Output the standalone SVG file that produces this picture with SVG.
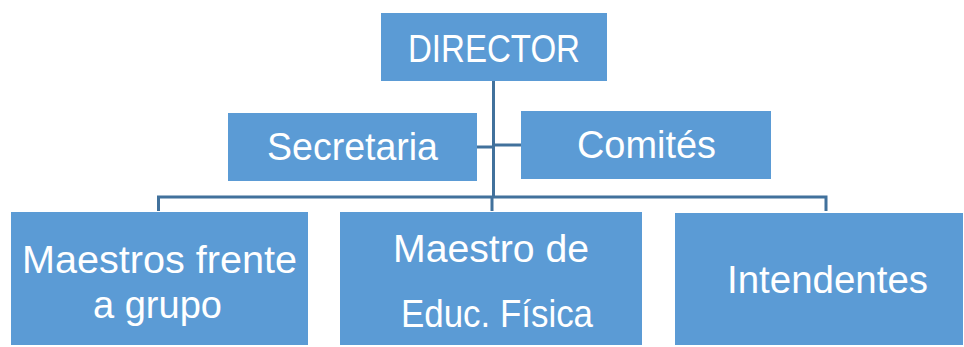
<svg xmlns="http://www.w3.org/2000/svg" width="964" height="347" viewBox="0 0 964 347">
<style>
.box{fill:#5B9BD5;}
.lbl{fill:#FFFFFF;font-family:"Liberation Sans","Noto Sans",Arial,sans-serif;font-size:38px;text-anchor:start;}
.con{stroke:#41719C;stroke-width:3;fill:none;}
</style>
<rect width="964" height="347" fill="#FFFFFF"/>
<g id="connectors">
<path class="con" d="M493.5,81 V197"/>
<path class="con" d="M492,197 V211"/>
<path class="con" d="M158.5,211 V197 H826 V211"/>
<path class="con" d="M477,147 H493.5"/>
<path class="con" d="M493.5,145 H521"/>
</g>
<g id="director">
<rect class="box" x="381" y="13" width="226" height="68"/>
<text class="lbl" x="408" y="62" textLength="172" lengthAdjust="spacingAndGlyphs">DIRECTOR</text>
</g>
<g id="secretaria">
<rect class="box" x="228" y="113" width="249" height="68"/>
<text class="lbl" x="267" y="160" textLength="171" lengthAdjust="spacingAndGlyphs">Secretaria</text>
</g>
<g id="comites">
<rect class="box" x="521" y="111" width="250" height="68"/>
<text class="lbl" x="577" y="158" textLength="139" lengthAdjust="spacingAndGlyphs">Comités</text>
</g>
<g id="maestros-frente">
<rect class="box" x="11" y="212" width="297" height="133"/>
<text class="lbl" x="22" y="273" textLength="275" lengthAdjust="spacingAndGlyphs">Maestros frente</text>
<text class="lbl" x="93" y="318" textLength="129" lengthAdjust="spacingAndGlyphs">a grupo</text>
</g>
<g id="maestro-educ">
<rect class="box" x="340" y="212" width="302" height="133"/>
<text class="lbl" x="393" y="262" textLength="196" lengthAdjust="spacingAndGlyphs">Maestro de</text>
<text class="lbl" x="401" y="327" textLength="192" lengthAdjust="spacingAndGlyphs">Educ. Física</text>
</g>
<g id="intendentes">
<rect class="box" x="675" y="213" width="288" height="132"/>
<text class="lbl" x="727" y="293" textLength="201" lengthAdjust="spacingAndGlyphs">Intendentes</text>
</g>
</svg>
